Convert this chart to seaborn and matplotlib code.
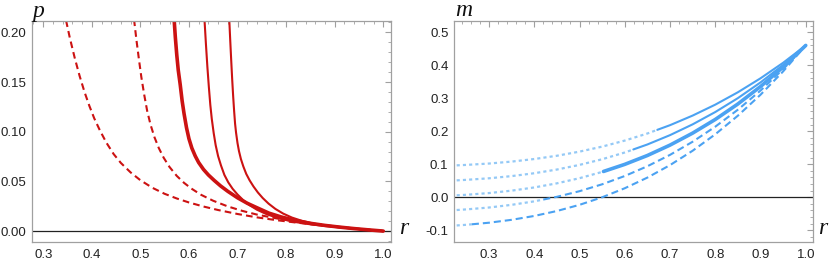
import numpy as np
import matplotlib
matplotlib.use("Agg")
import matplotlib.pyplot as plt
import seaborn as sns
from matplotlib.ticker import MultipleLocator, FixedLocator

# ---- left panel: p(r) ----
r_p_dash1 = [0.347, 0.355, 0.365, 0.375, 0.385, 0.395, 0.405, 0.417, 0.43, 0.445, 0.46, 0.48, 0.50, 0.525,
             0.55, 0.575, 0.60, 0.63, 0.66, 0.70, 0.74, 0.78, 0.82, 0.86, 0.90, 0.94, 0.97, 1.0]
p_dash1 = [0.212, 0.194, 0.174, 0.156, 0.140, 0.126, 0.1135, 0.101, 0.089, 0.0775, 0.0685, 0.0590, 0.0512, 0.0435,
           0.0375, 0.0328, 0.0288, 0.0247, 0.0212, 0.0172, 0.0138, 0.0110, 0.0086, 0.0065, 0.0045, 0.0026, 0.0013, 0.0]

r_p_dash2 = [0.487, 0.492, 0.497, 0.502, 0.508, 0.514, 0.521, 0.529, 0.538, 0.548, 0.560, 0.575, 0.590, 0.605,
             0.625, 0.65, 0.68, 0.71, 0.74, 0.78, 0.82, 0.86, 0.90, 0.94, 0.97, 1.0]
p_dash2 = [0.213, 0.192, 0.173, 0.155, 0.137, 0.121, 0.107, 0.0945, 0.0835, 0.0738, 0.0645, 0.0555, 0.0485, 0.0428,
           0.0365, 0.0305, 0.0248, 0.0203, 0.0166, 0.0128, 0.0098, 0.0072, 0.0048, 0.0027, 0.0013, 0.0]

r_p_thick = [0.5695, 0.572, 0.575, 0.578, 0.582, 0.586, 0.590, 0.595, 0.600, 0.606, 0.613, 0.620, 0.630, 0.640,
             0.652, 0.665, 0.680, 0.700, 0.720, 0.740, 0.765, 0.790, 0.820, 0.850, 0.880, 0.910, 0.940, 0.970, 1.0]
p_thick = [0.213, 0.195, 0.177, 0.162, 0.1475, 0.131, 0.118, 0.104, 0.093, 0.0835, 0.0755, 0.069, 0.062, 0.0565,
           0.051, 0.0455, 0.040, 0.0335, 0.028, 0.0235, 0.0180, 0.0142, 0.0106, 0.0078, 0.0057, 0.0040, 0.0025, 0.0012, 0.0]

r_p_sol2 = [0.632, 0.635, 0.638, 0.641, 0.644, 0.647, 0.651, 0.655, 0.660, 0.666, 0.673, 0.681, 0.690, 0.700,
            0.712, 0.725, 0.740, 0.760, 0.785, 0.815, 0.85, 0.88, 0.91, 0.94, 0.97, 1.0]
p_sol2 = [0.213, 0.188, 0.165, 0.145, 0.127, 0.113, 0.0985, 0.0865, 0.0755, 0.066, 0.0565, 0.049, 0.0425, 0.0368,
          0.031, 0.026, 0.0215, 0.0170, 0.0128, 0.0094, 0.0068, 0.0051, 0.0037, 0.0024, 0.0012, 0.0]

r_p_sol3 = [0.683, 0.685, 0.687, 0.689, 0.691, 0.693, 0.695, 0.697, 0.700, 0.703, 0.707, 0.712, 0.718, 0.725,
            0.733, 0.742, 0.752, 0.764, 0.778, 0.794, 0.812, 0.832, 0.856, 0.88, 0.91, 0.94, 0.97, 1.0]
p_sol3 = [0.213, 0.192, 0.172, 0.153, 0.136, 0.121, 0.108, 0.099, 0.0885, 0.0805, 0.0725, 0.065, 0.0575, 0.051,
          0.0448, 0.0388, 0.0332, 0.0276, 0.0223, 0.0176, 0.0136, 0.0104, 0.0076, 0.0056, 0.0038, 0.0024, 0.0012, 0.0]

# ---- right panel: m(r) ----
r_m = [0.2285, 0.25, 0.30, 0.35, 0.40, 0.45, 0.50, 0.55, 0.60, 0.65, 0.70, 0.75, 0.80, 0.85, 0.90, 0.95, 1.0]
m_a = [0.0964, 0.0978, 0.1019, 0.1078, 0.1156, 0.1255, 0.138, 0.1532, 0.1715, 0.193, 0.2182, 0.2473, 0.2804, 0.318, 0.3603, 0.4074, 0.46]
m_b = [0.0509, 0.0525, 0.0572, 0.0638, 0.0725, 0.0837, 0.0978, 0.1149, 0.1354, 0.1597, 0.188, 0.2207, 0.258, 0.3002, 0.3478, 0.4008, 0.46]
m_c = [0.0055, 0.0072, 0.0124, 0.0197, 0.0294, 0.0419, 0.0575, 0.0765, 0.0994, 0.1263, 0.1578, 0.1941, 0.2355, 0.2825, 0.3353, 0.3944, 0.46]
m_d = [-0.039, -0.0371, -0.0314, -0.0233, -0.0127, 0.001, 0.0181, 0.039, 0.0641, 0.0937, 0.1282, 0.168, 0.2136, 0.2651, 0.3231, 0.3878, 0.46]
m_e = [-0.0858, -0.0838, -0.0775, -0.0687, -0.057, -0.042, -0.0233, -0.0004, 0.027, 0.0593, 0.0971, 0.1407, 0.1905, 0.247, 0.3104, 0.3812, 0.46]
# r where each curve switches from dotted to its own style
r_switch = {"a": 0.672, "b": 0.619, "c": 0.553, "d": 0.42, "e": 0.262}

RED = "#cc1212"
BLUE = "#4ba2f2"
LIGHT = "#94c9f6"


def split(r, m, r0):
    r = np.asarray(r)
    m = np.asarray(m)
    m0 = np.interp(r0, r, m)
    lo = r < r0
    hi = r > r0
    return (np.r_[r[lo], r0], np.r_[m[lo], m0]), (np.r_[r0, r[hi]], np.r_[m0, m[hi]])


def style_axes(ax):
    for s in ax.spines.values():
        s.set_color("#a0a0a0")
        s.set_linewidth(0.9)
    ax.tick_params(which="both", direction="in", top=True, right=True,
                   colors="#a0a0a0", labelcolor="#222222", labelsize=9.5)
    ax.tick_params(which="major", length=4, width=0.8)
    ax.tick_params(which="minor", length=2.2, width=0.6)
    ax.tick_params(axis="x", pad=5)
    ax.tick_params(axis="y", pad=4)
    ax.axhline(0, color="#222222", lw=0.9, zorder=1)
    ax.set_xlabel("")
    ax.set_ylabel("")


def main():
    sns.set_style("white")
    plt.rcParams["font.family"] = ["Liberation Sans", "DejaVu Sans"]

    fig = plt.figure(figsize=(8.3, 2.62), dpi=100)
    ax1 = fig.add_axes([0.0386, 0.0763, 0.4325, 0.8435])
    ax2 = fig.add_axes([0.547, 0.0763, 0.4325, 0.8435])

    # left panel
    dash = (0, (3.2, 2.0))
    sns.lineplot(x=r_p_dash1, y=p_dash1, ax=ax1, color=RED, lw=1.5, linestyle=dash, estimator=None, sort=False)
    sns.lineplot(x=r_p_dash2, y=p_dash2, ax=ax1, color=RED, lw=1.5, linestyle=dash, estimator=None, sort=False)
    sns.lineplot(x=r_p_thick, y=p_thick, ax=ax1, color=RED, lw=2.6, estimator=None, sort=False)
    sns.lineplot(x=r_p_sol2, y=p_sol2, ax=ax1, color=RED, lw=1.5, estimator=None, sort=False)
    sns.lineplot(x=r_p_sol3, y=p_sol3, ax=ax1, color=RED, lw=1.5, estimator=None, sort=False)
    ax1.set_xlim(0.277, 1.016)
    ax1.set_ylim(-0.011, 0.2114)
    ax1.xaxis.set_major_locator(FixedLocator([0.3, 0.4, 0.5, 0.6, 0.7, 0.8, 0.9, 1.0]))
    ax1.xaxis.set_minor_locator(MultipleLocator(0.02))
    ax1.yaxis.set_major_locator(FixedLocator([0.0, 0.05, 0.10, 0.15, 0.20]))
    ax1.yaxis.set_minor_locator(MultipleLocator(0.01))
    ax1.set_xticklabels(["0.3", "0.4", "0.5", "0.6", "0.7", "0.8", "0.9", "1.0"])
    ax1.set_yticklabels(["0.00", "0.05", "0.10", "0.15", "0.20"])
    style_axes(ax1)

    # right panel
    dotted = (0, (1.4, 1.4))
    mdash = (0, (3.4, 1.9))
    curves = [("a", m_a, None, 1.5), ("b", m_b, None, 1.5), ("c", m_c, None, 2.6),
              ("d", m_d, mdash, 1.5), ("e", m_e, mdash, 1.5)]
    for key, m, ls, lw in curves:
        (rl, ml), (rh, mh) = split(r_m, m, r_switch[key])
        sns.lineplot(x=rl, y=ml, ax=ax2, color=LIGHT, lw=1.6, linestyle=dotted, estimator=None, sort=False)
        kw = {} if ls is None else {"linestyle": ls}
        sns.lineplot(x=rh, y=mh, ax=ax2, color=BLUE, lw=lw, estimator=None, sort=False, **kw)
    ax2.set_xlim(0.2226, 1.016)
    ax2.set_ylim(-0.136, 0.534)
    ax2.xaxis.set_major_locator(FixedLocator([0.3, 0.4, 0.5, 0.6, 0.7, 0.8, 0.9, 1.0]))
    ax2.xaxis.set_minor_locator(MultipleLocator(0.02))
    ax2.yaxis.set_major_locator(FixedLocator([-0.1, 0.0, 0.1, 0.2, 0.3, 0.4, 0.5]))
    ax2.yaxis.set_minor_locator(MultipleLocator(0.02))
    ax2.set_xticklabels(["0.3", "0.4", "0.5", "0.6", "0.7", "0.8", "0.9", "1.0"])
    ax2.set_yticklabels(["-0.1", "0.0", "0.1", "0.2", "0.3", "0.4", "0.5"])
    style_axes(ax2)

    lab = dict(family=["Liberation Serif", "DejaVu Serif"], style="italic", fontsize=17,
               ha="center", va="center", color="#111111")
    fig.text(38 / 830, 1 - 11 / 262, "p", **lab)
    fig.text(404 / 830, 1 - 229 / 262, "r", **lab)
    fig.text(464 / 830, 1 - 10 / 262, "m", **lab)
    fig.text(823 / 830, 1 - 229 / 262, "r", **lab)

    fig.savefig("out.png", dpi=100)


if __name__ == "__main__":
    main()
